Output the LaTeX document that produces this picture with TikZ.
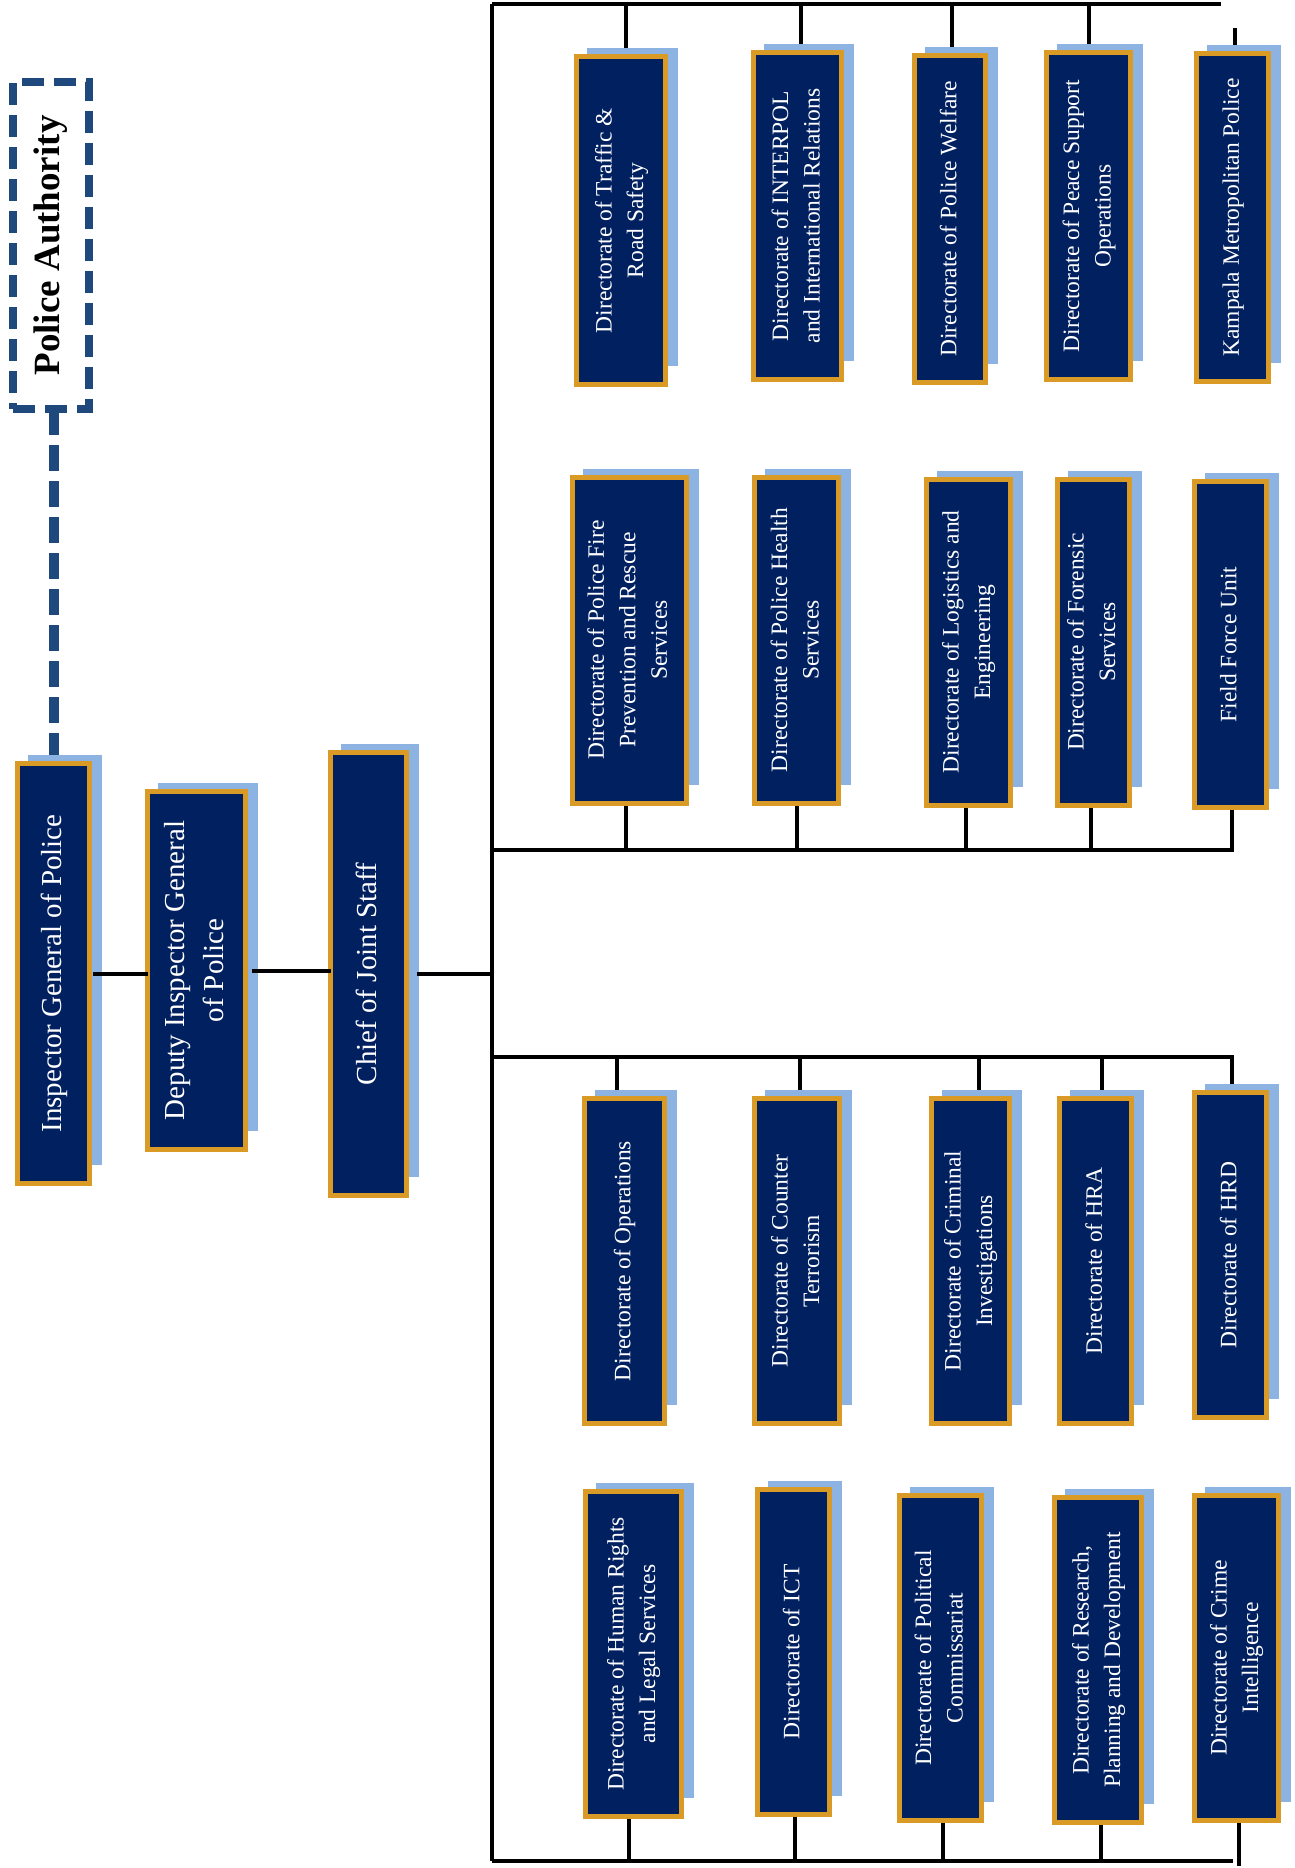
\documentclass[tikz,border=0pt]{standalone}
\usepackage{fontspec}
\setmainfont{Liberation Serif}
\usetikzlibrary{calc}
\definecolor{boxnavy}{HTML}{002060}
\definecolor{boxorange}{HTML}{DA9A26}
\definecolor{shadowblue}{HTML}{8DB3E2}
\definecolor{pablue}{HTML}{1F497D}
\pgfdeclarelayer{bglayer}
\pgfdeclarelayer{connlayer}
\pgfdeclarelayer{shadowlayer}
\pgfsetlayers{bglayer,connlayer,shadowlayer,main}
\newcommand\dirfont{\fontsize{23.5}{31.5}\selectfont}
\newcommand\topfont{\fontsize{29}{39}\selectfont}
\newcommand\rotlines[1]{\rotatebox{90}{\begin{tabular}{@{}c@{}}#1\end{tabular}}}
\newcommand\orgbox[7]{%
  \node[#1, minimum width=#5pt, minimum height=#6pt] (#2) at (#3,#4) {\rotlines{#7}};
  \begin{pgfonlayer}{shadowlayer}
    \fill[shadowblue] ($(#2.north west)+(10.5,-8.5)$) rectangle ($(#2.south east)+(12.5,-18.5)$);
  \end{pgfonlayer}}
\tikzset{
  unitbox/.style={draw=boxorange, line width=5pt, fill=boxnavy, text=white,
    inner sep=0pt, outer sep=0pt, font=\dirfont},
  headbox/.style={unitbox, font=\topfont},
  conn/.style={draw=black, line width=4pt},
  padash/.style={draw=pablue, line width=8pt, dash pattern=on 22pt off 10pt},
}
\begin{document}
\begin{tikzpicture}[x=1pt,y=-1pt]
\begin{pgfonlayer}{bglayer}
\fill[white] (0,0) rectangle (1294,1868);
\end{pgfonlayer}
\useasboundingbox (0,0) rectangle (1294,1868);

% top-level boxes
\node[padash, minimum width=76pt, minimum height=327pt, inner sep=0pt, outer sep=0pt,
  font=\fontsize{37}{44}\selectfont\bfseries] (PA) at (51,245.5) {\rotatebox{90}{Police Authority}};
\orgbox{headbox}{IGP}{53.5}{973.5}{72}{420}{Inspector General of Police}
\orgbox{headbox}{DIGP}{196.5}{970.5}{98}{358}{Deputy Inspector General\\of Police}
\orgbox{headbox}{CJS}{368.5}{974}{76}{443}{Chief of Joint Staff}

% row A
\orgbox{unitbox}{A1}{621}{220.5}{89}{327}{Directorate of Traffic \&\\Road Safety}
\orgbox{unitbox}{A2}{797.5}{216}{88}{327}{Directorate of INTERPOL\\and International Relations}
\orgbox{unitbox}{A3}{950}{219}{71}{327}{Directorate of Police Welfare}
\orgbox{unitbox}{A4}{1088.5}{216}{84}{327}{Directorate of Peace Support\\Operations}
\orgbox{unitbox}{A5}{1232.6}{217.5}{72}{327}{Kampala Metropolitan Police}
% row B
\orgbox{unitbox}{B1}{629}{640}{114}{326}{Directorate of Police Fire\\Prevention and Rescue\\Services}
\orgbox{unitbox}{B2}{796.5}{640}{84}{326}{Directorate of Police Health\\Services}
\orgbox{unitbox}{B3}{968}{642}{84}{326}{Directorate of Logistics and\\Engineering}
\orgbox{unitbox}{B4}{1093}{642}{72}{326}{Directorate of Forensic\\Services}
\orgbox{unitbox}{B5}{1230}{644.5}{72}{326}{Field Force Unit}
% row C
\orgbox{unitbox}{C1}{624}{1261}{80}{325}{Directorate of Operations}
\orgbox{unitbox}{C2}{797}{1261}{85}{325}{Directorate of Counter\\Terrorism}
\orgbox{unitbox}{C3}{970}{1261}{78}{325}{Directorate of Criminal\\Investigations}
\orgbox{unitbox}{C4}{1095.5}{1261}{72}{325}{Directorate of HRA}
\orgbox{unitbox}{C5}{1230}{1255}{72}{325}{Directorate of HRD}
% row D
\orgbox{unitbox}{D1}{633}{1654}{96}{325}{Directorate of Human Rights\\and Legal Services}
\orgbox{unitbox}{D2}{793}{1652}{72}{325}{Directorate of ICT}
\orgbox{unitbox}{D3}{940.5}{1658}{82}{325}{Directorate of Political\\Commissariat}
\orgbox{unitbox}{D4}{1098}{1660}{87}{325}{Directorate of Research,\\Planning and Development}
\orgbox{unitbox}{D5}{1236}{1658}{84}{325}{Directorate of Crime\\Intelligence}

% trunk coordinates
\coordinate (trunkTop) at (492,4);
\coordinate (trunkBot) at (492,1861);
\coordinate (topEnd) at (1221,4);
\coordinate (midU) at (492,850);
\coordinate (midL) at (492,1057);
\coordinate (botEnd) at (1233,1861);

\begin{pgfonlayer}{connlayer}
  \draw[conn] (trunkTop) -- (trunkBot);
  \draw[conn] (trunkTop) -- (topEnd);
  \foreach \n/\dx in {A1/5,A2/3.5,A3/2,A4/0.5}{
    \path ([xshift=\dx pt]\n.north) coordinate (tmp);
    \draw[conn] (tmp) -- (tmp |- trunkTop);}
  \path ([xshift=2.4pt]A5.north) coordinate (a5c);
  \draw[conn] (a5c) -- ++(0,-26);
  \path ([xshift=2pt]B5.south) coordinate (b5c);
  \draw[conn] (midU) -- (midU -| b5c) -- (b5c);
  \foreach \n/\dx in {B1/-3,B2/0,B3/-2,B4/-2}{
    \path ([xshift=\dx pt]\n.south) coordinate (tmp);
    \draw[conn] (tmp) -- (tmp |- midU);}
  \path ([xshift=2pt]C5.north) coordinate (c5c);
  \draw[conn] (midL) -- (midL -| c5c) -- (c5c);
  \foreach \n/\dx in {C1/-7,C2/3,C3/9,C4/6.5}{
    \path ([xshift=\dx pt]\n.north) coordinate (tmp);
    \draw[conn] (tmp) -- (tmp |- midL);}
  \draw[conn] (trunkBot) -- (botEnd);
  \foreach \n/\dx in {D1/-4,D2/2,D3/2,D4/3}{
    \path ([xshift=\dx pt]\n.south) coordinate (tmp);
    \draw[conn] (tmp) -- (tmp |- trunkBot);}
  \path ([xshift=3pt]D5.south) coordinate (d5c);
  \draw[conn] (d5c) -- (d5c |- 0,1866);
  \path ([xshift=3pt]PA.south) coordinate (pac);
  \draw[draw=pablue, line width=10pt, dash pattern=on 26pt off 10pt] (pac) -- (pac |- IGP.north);
\end{pgfonlayer}

\draw[conn] ([xshift=3.5pt]IGP.east) -- (IGP.east -| DIGP.west);
\draw[conn] ([xshift=6pt]DIGP.east) -- (DIGP.east -| CJS.west);
\draw[conn] ([xshift=10pt]CJS.east) -- (CJS.east -| trunkTop);
\end{tikzpicture}
\end{document}
